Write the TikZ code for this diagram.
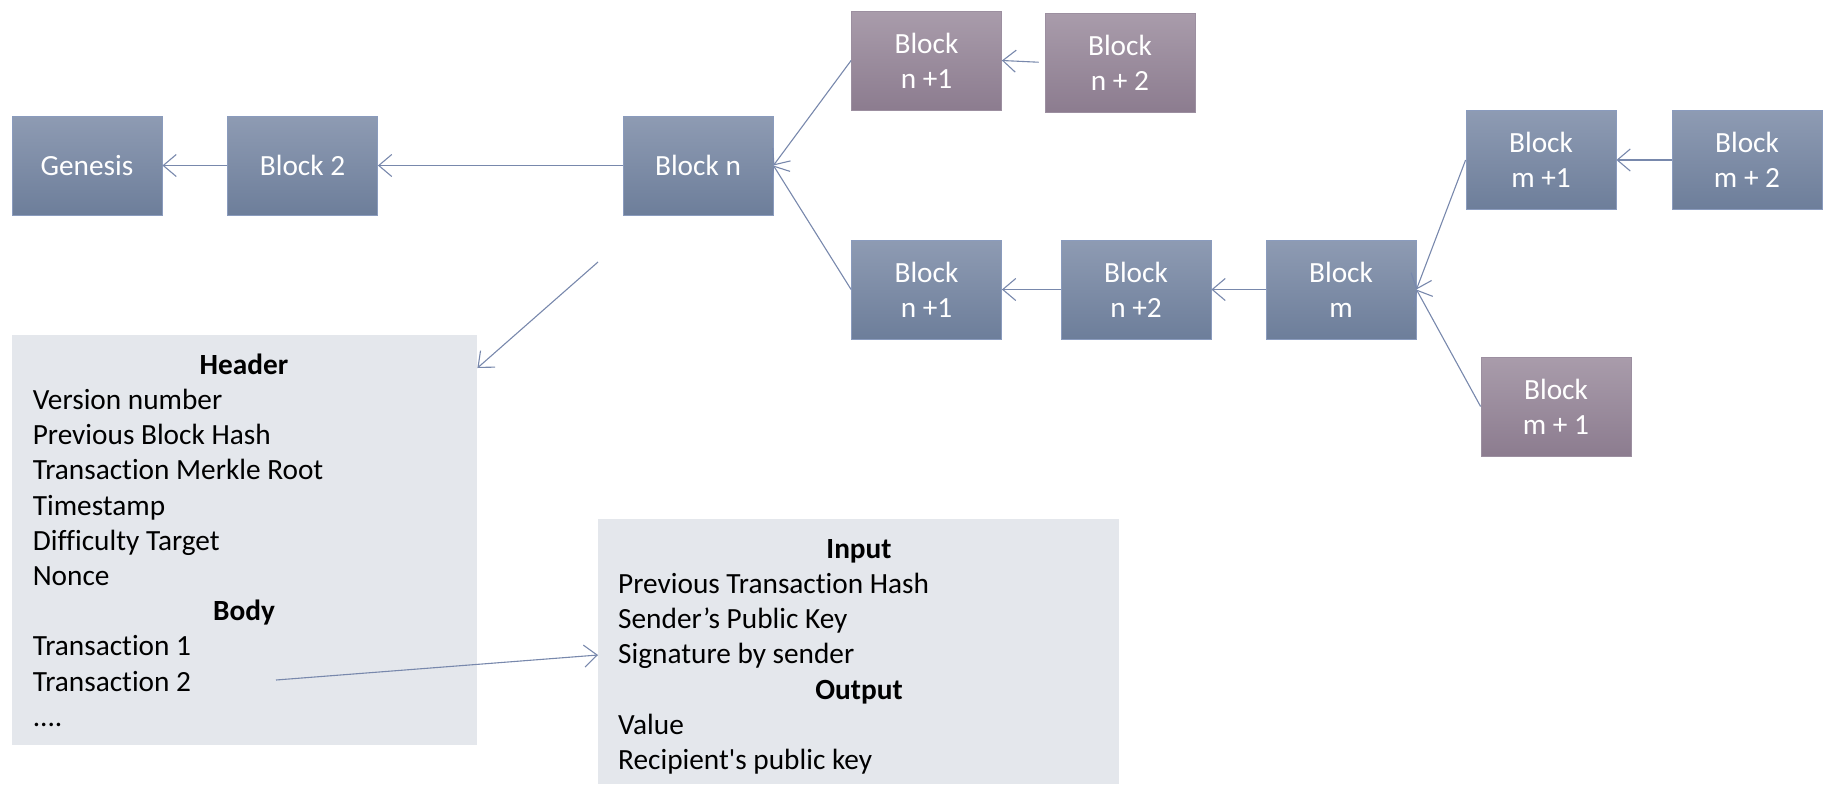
\documentclass[tikz,border=0pt]{standalone}
\usepackage{fontspec}
\setmainfont{Carlito}[Ligatures={TeXOff,NoCommon}]
\usetikzlibrary{arrows.meta}
\definecolor{blueTop}{HTML}{8E9BB3}
\definecolor{blueBot}{HTML}{6D7E9A}
\definecolor{blueEdge}{HTML}{8A9BBD}
\definecolor{plumTop}{HTML}{A99CAB}
\definecolor{plumBot}{HTML}{8C7C8F}
\definecolor{plumEdge}{HTML}{9C8FA0}
\definecolor{panel}{HTML}{E4E7EC}
\definecolor{link}{HTML}{7888AC}
\tikzset{
  x=1pt, y=-1pt,
  txt/.style={font=\fontsize{29.3}{35}\selectfont},
  blk/.style={txt, text=white, align=center, minimum width=150pt, minimum height=99pt,
    inner sep=0pt, draw=blueEdge, line width=0.8pt, top color=blueTop, bottom color=blueBot},
  plum/.style={blk, draw=plumEdge, top color=plumTop, bottom color=plumBot},
  panelbox/.style={fill=panel, draw=none},
  row/.style={txt, anchor=base west, inner sep=0pt},
  head/.style={txt, anchor=base, inner sep=0pt, font=\fontsize{29.3}{35}\selectfont\bfseries},
  conn/.style={draw=link, line width=1.1pt, -{Straight Barb[length=13pt,width=22pt,line width=1.1pt]}},
}
\begin{document}
\begin{tikzpicture}
\useasboundingbox (0,0) rectangle (1824,785);

% main chain
\node[blk] (gen) at (87,165.5) {Genesis};
\node[blk] (b2)  at (302.5,165.5) {Block 2};
\node[blk] (bn)  at (698,165.5) {Block n};

% short branch (orphaned)
\node[plum] (pn1) at (926.5,60.5) {Block\\n +1};
\node[plum] (pn2) at (1120,62.5) {Block\\n + 2};

% long branch
\node[blk] (n1) at (926.5,289.5) {Block\\n +1};
\node[blk] (n2) at (1136,289.5) {Block\\n +2};
\node[blk] (bm) at (1341,289.5) {Block\\m};
\node[blk] (m1) at (1541,160) {Block\\m +1};
\node[blk] (m2) at (1747,160) {Block\\m + 2};
\node[plum] (pm1) at (1556,406.5) {Block\\m + 1};

% links to parent blocks
\draw[conn] (b2.west) -- (gen.east);
\draw[conn] (bn.west) -- (b2.east);
\draw[conn] (pn1.west) -- (bn.east);
\draw[conn] (n1.west) -- (bn.east);
\draw[conn, shorten <=6pt] (pn2.west) -- (pn1.east);
\draw[conn] (n2.west) -- (n1.east);
\draw[conn] (bm.west) -- (n2.east);
\draw[conn] (m1.west) -- (bm.east);
\draw[conn] (pm1.west) -- (bm.east);
\draw[conn] (m2.west) -- (m1.east);

% block contents
\node[panelbox, minimum width=465.4pt, minimum height=410pt, anchor=north west, inner sep=0pt] (blockbox) at (11.6,335) {};
\node[head] (hHeader) at (244,374.2) {Header};
\node[row] (hVer)  at (32.6,409.4) {Version number};
\node[row] (hPrev) at (32.6,444.6) {Previous Block Hash};
\node[row] (hMerk) at (32.6,479.8) {Transaction Merkle Root};
\node[row] (hTime) at (32.6,515) {Timestamp};
\node[row] (hDiff) at (32.6,550.2) {Difficulty Target};
\node[row] (hNonce) at (32.6,585.4) {Nonce};
\node[head] (hBody) at (244,620.6) {Body};
\node[row] (hTx1) at (32.6,655.8) {Transaction 1};
\node[row] (hTx2) at (32.6,691) {Transaction 2};
\node[row] (hMore) at (32.6,726.2) {....};

% transaction contents
\node[panelbox, minimum width=521pt, minimum height=265pt, anchor=north west, inner sep=0pt] (txbox) at (598,519) {};
\node[head] (tIn) at (859,558.2) {Input};
\node[row] (tPrev) at (618,593.4) {Previous Transaction Hash};
\node[row] (tKey) at (618,628.6) {Sender’s Public Key};
\node[row] (tSig) at (618,663.8) {Signature by sender};
\node[head] (tOut) at (859,699) {Output};
\node[row] (tVal) at (618,734.2) {Value};
\node[row] (tRcp) at (618,769.4) {Recipient's public key};

% detail pointers
\coordinate (bnDetail) at (598,262);
\coordinate (tx2Detail) at (276,680);
\draw[conn] (bnDetail) -- (blockbox.north east |- 0,368);
\draw[conn] (tx2Detail) -- (txbox.west |- 0,655);
\end{tikzpicture}
\end{document}
